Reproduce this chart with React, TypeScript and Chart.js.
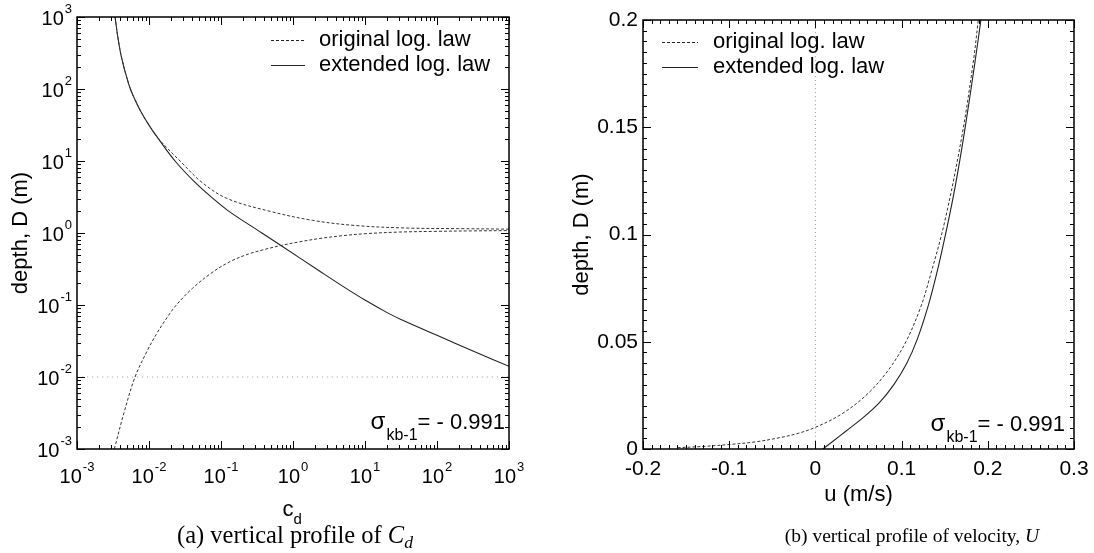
import React, { useEffect, useRef } from "react";
import { Chart, registerables } from "chart.js";

Chart.register(...registerables);

// ---------------- Panel (a): vertical profile of Cd (log-log) ----------------
const cdExtC = [0.00338, 0.00362, 0.00386, 0.00407, 0.00449, 0.00486, 0.00551, 0.00643, 0.00759, 0.0103, 0.0137, 0.023, 0.044, 0.078, 0.129, 0.37, 0.68, 2.36, 5, 10, 20, 31.6, 100, 316, 1000];
const cdExtD = [1000, 600, 400, 300, 200, 150, 100, 70, 50, 30, 20, 10, 5, 3, 2, 1, 0.67, 0.294, 0.18, 0.117, 0.079, 0.063, 0.038, 0.0229, 0.0141];

const cdOrigUpperC = [0.00338, 0.00362, 0.00386, 0.00407, 0.00449, 0.00486, 0.00551, 0.00643, 0.00759, 0.0103, 0.0138, 0.027, 0.055, 0.123, 0.48, 1.86, 7.4, 40, 200, 1000];
const cdOrigUpperD = [1000, 600, 400, 300, 200, 150, 100, 70, 50, 30, 20, 10, 5, 3, 2, 1.5, 1.27, 1.17, 1.15, 1.13];

const cdOrigLowerC = [0.0033, 0.0045, 0.0064, 0.0095, 0.0126, 0.018, 0.024, 0.04, 0.078, 0.14, 0.24, 0.4, 0.68, 1.2, 2.36, 5, 10.3, 30, 100, 300, 1000];
const cdOrigLowerD = [0.001, 0.0032, 0.01, 0.0234, 0.039, 0.068, 0.1, 0.17, 0.29, 0.41, 0.51, 0.59, 0.67, 0.75, 0.84, 0.92, 0.98, 1.03, 1.055, 1.07, 1.08];

const cdRefC = [0.001, 1000];
const cdRefD = [0.01, 0.01];

const logExponents = [-3, -2, -1, 0, 1, 2, 3];
const logMantissas = [1, 2, 3, 4, 5, 6, 7, 8, 9];

// ---------------- Panel (b): vertical profile of velocity ----------------
const uOrig = [-0.16, -0.13, -0.1, -0.07, -0.04, -0.02, 0, 0.03, 0.06, 0.085, 0.105, 0.122, 0.132, 0.15, 0.17, 0.183, 0.189];
const dOrig = [0.0006, 0.0012, 0.0021, 0.0033, 0.0054, 0.0073, 0.0101, 0.0162, 0.0255, 0.037, 0.05, 0.066, 0.079, 0.106, 0.146, 0.18, 0.2];

const uExt = [0.0087, 0.02, 0.036, 0.055, 0.074, 0.091, 0.106, 0.118, 0.131, 0.142, 0.152, 0.162, 0.173, 0.185, 0.192];
const dExt = [0, 0.0035, 0.0085, 0.0145, 0.0215, 0.03, 0.04, 0.051, 0.067, 0.084, 0.102, 0.122, 0.148, 0.18, 0.2];

const uRefU = [0, 0];
const uRefD = [0, 0.2];

const uTicks = [-0.2, -0.1, 0, 0.1, 0.2, 0.3];
const uTickLabels = ["-0.2", "-0.1", "0", "0.1", "0.2", "0.3"];
const dTicks = [0, 0.05, 0.1, 0.15, 0.2];
const dTickLabels = ["0", "0.05", "0.1", "0.15", "0.2"];
const uMinorStep = 0.01;
const dMinorStep = 0.005;

// ---------------- texts ----------------
const legendLabels = ["original log. law", "extended log. law"];
const sigmaSub = "kb-1";
const sigmaValue = "= - 0.991";
const yTitle = "depth, D (m)";
const xTitleB = "u (m/s)";

const SANS = '"Liberation Sans", Arial, Helvetica, sans-serif';
const LINE = "#222";

const pts = (xs: number[], ys: number[]) => xs.map((x, i) => ({ x, y: ys[i] }));

function lineDs(label: string, data: any[], dash: number[], color = LINE, width = 1) {
  return {
    label,
    data,
    showLine: true,
    borderColor: color,
    borderWidth: width,
    borderDash: dash,
    pointRadius: 0,
    fill: false,
    tension: 0.35,
  };
}

function drawPow10(ctx: CanvasRenderingContext2D, exp: number, x: number, y: number, align: "center" | "right") {
  ctx.font = `20px ${SANS}`;
  const wb = ctx.measureText("10").width;
  ctx.font = `13px ${SANS}`;
  const es = String(exp);
  const we = ctx.measureText(es).width;
  const total = wb + 1 + we;
  const x0 = align === "center" ? x - total / 2 : x - total;
  ctx.textAlign = "left";
  ctx.textBaseline = "middle";
  ctx.font = `20px ${SANS}`;
  ctx.fillText("10", x0, y);
  ctx.font = `13px ${SANS}`;
  ctx.fillText(es, x0 + wb + 1, y - 10);
}

function drawLegend(ctx: CanvasRenderingContext2D, x1: number, x2: number, xt: number, y1: number, y2: number) {
  ctx.save();
  ctx.strokeStyle = LINE;
  ctx.lineWidth = 1;
  ctx.setLineDash([3, 2]);
  ctx.beginPath();
  ctx.moveTo(x1, y1 + 0.5);
  ctx.lineTo(x2, y1 + 0.5);
  ctx.stroke();
  ctx.setLineDash([]);
  ctx.beginPath();
  ctx.moveTo(x1, y2 + 0.5);
  ctx.lineTo(x2, y2 + 0.5);
  ctx.stroke();
  ctx.fillStyle = "#000";
  ctx.font = `22px ${SANS}`;
  ctx.textAlign = "left";
  ctx.textBaseline = "middle";
  ctx.fillText(legendLabels[0], xt, y1);
  ctx.fillText(legendLabels[1], xt, y2);
  ctx.restore();
}

function drawSigma(ctx: CanvasRenderingContext2D, right: number, baseline: number) {
  ctx.save();
  ctx.fillStyle = "#000";
  ctx.textAlign = "left";
  ctx.textBaseline = "alphabetic";
  ctx.font = `22px ${SANS}`;
  const wv = ctx.measureText(sigmaValue).width;
  ctx.font = `16px ${SANS}`;
  const ws = ctx.measureText(sigmaSub).width;
  ctx.font = `24px ${SANS}`;
  const wsig = ctx.measureText("σ").width;
  let x = right - wv;
  ctx.font = `22px ${SANS}`;
  ctx.fillText(sigmaValue, x, baseline);
  x -= ws;
  ctx.font = `16px ${SANS}`;
  ctx.fillText(sigmaSub, x, baseline + 11);
  x -= wsig + 1;
  ctx.font = `24px ${SANS}`;
  ctx.fillText("σ", x, baseline);
  ctx.restore();
}

function drawYTitle(ctx: CanvasRenderingContext2D, x: number, y: number) {
  ctx.save();
  ctx.translate(x, y);
  ctx.rotate(-Math.PI / 2);
  ctx.fillStyle = "#000";
  ctx.font = `22px ${SANS}`;
  ctx.textAlign = "center";
  ctx.textBaseline = "middle";
  ctx.fillText(yTitle, 0, 0);
  ctx.restore();
}

const panelAPlugin = {
  id: "panelA",
  afterDatasetsDraw(chart: any) {
    const ctx: CanvasRenderingContext2D = chart.ctx;
    const a = chart.chartArea;
    const xs = chart.scales.x;
    const ys = chart.scales.y;
    ctx.save();
    ctx.strokeStyle = "#000";
    ctx.lineWidth = 1;
    ctx.beginPath();
    for (const e of logExponents) {
      for (const m of logMantissas) {
        const v = m * Math.pow(10, e);
        if (v > 1000.001) continue;
        const len = m === 1 ? 8 : 4;
        const px = Math.round(xs.getPixelForValue(v)) + 0.5;
        ctx.moveTo(px, a.bottom);
        ctx.lineTo(px, a.bottom - len);
        ctx.moveTo(px, a.top);
        ctx.lineTo(px, a.top + len);
        const py = Math.round(ys.getPixelForValue(v)) + 0.5;
        ctx.moveTo(a.left, py);
        ctx.lineTo(a.left + len, py);
        ctx.moveTo(a.right, py);
        ctx.lineTo(a.right - len, py);
      }
    }
    ctx.stroke();
    ctx.lineWidth = 1.5;
    ctx.strokeRect(a.left, a.top, a.right - a.left, a.bottom - a.top);

    ctx.fillStyle = "#000";
    for (const e of logExponents) {
      const v = Math.pow(10, e);
      drawPow10(ctx, e, xs.getPixelForValue(v), a.bottom + 28, "center");
      drawPow10(ctx, e, a.left - 5, ys.getPixelForValue(v) + 2, "right");
    }
    // x title c_d
    ctx.textAlign = "left";
    ctx.textBaseline = "alphabetic";
    ctx.font = `22px ${SANS}`;
    const wc = ctx.measureText("c").width;
    const cx = (a.left + a.right) / 2 - 2;
    ctx.fillText("c", cx - wc / 2 - 3, a.bottom + 67);
    ctx.font = `15px ${SANS}`;
    ctx.fillText("d", cx + wc / 2 - 3, a.bottom + 75);
    drawYTitle(ctx, 21, (a.top + a.bottom) / 2);
    drawLegend(ctx, 271, 305, 319, 40, 65);
    drawSigma(ctx, a.right - 4, a.bottom - 20);
    ctx.restore();
  },
};

const panelBPlugin = {
  id: "panelB",
  afterDatasetsDraw(chart: any) {
    const ctx: CanvasRenderingContext2D = chart.ctx;
    const a = chart.chartArea;
    const xs = chart.scales.x;
    const ys = chart.scales.y;
    ctx.save();
    ctx.strokeStyle = "#000";
    ctx.lineWidth = 1;
    ctx.beginPath();
    const uMin = uTicks[0];
    const uMax = uTicks[uTicks.length - 1];
    const nu = Math.round((uMax - uMin) / uMinorStep);
    for (let i = 0; i <= nu; i++) {
      const v = uMin + i * uMinorStep;
      const len = i % 10 === 0 ? 8 : 4;
      const px = Math.round(xs.getPixelForValue(v)) + 0.5;
      ctx.moveTo(px, a.bottom);
      ctx.lineTo(px, a.bottom - len);
      ctx.moveTo(px, a.top);
      ctx.lineTo(px, a.top + len);
    }
    const dMin = dTicks[0];
    const dMax = dTicks[dTicks.length - 1];
    const nd = Math.round((dMax - dMin) / dMinorStep);
    for (let i = 0; i <= nd; i++) {
      const v = dMin + i * dMinorStep;
      const len = i % 10 === 0 ? 8 : 4;
      const py = Math.round(ys.getPixelForValue(v)) + 0.5;
      ctx.moveTo(a.left, py);
      ctx.lineTo(a.left + len, py);
      ctx.moveTo(a.right, py);
      ctx.lineTo(a.right - len, py);
    }
    ctx.stroke();
    ctx.lineWidth = 1.5;
    ctx.strokeRect(a.left, a.top, a.right - a.left, a.bottom - a.top);

    ctx.fillStyle = "#000";
    ctx.font = `21px ${SANS}`;
    ctx.textBaseline = "middle";
    ctx.textAlign = "center";
    uTicks.forEach((v, i) => ctx.fillText(uTickLabels[i], xs.getPixelForValue(v), a.bottom + 20));
    ctx.textAlign = "right";
    dTicks.forEach((v, i) => ctx.fillText(dTickLabels[i], a.left - 5, ys.getPixelForValue(v)));
    ctx.font = `22px ${SANS}`;
    ctx.textAlign = "center";
    ctx.fillText(xTitleB, (a.left + a.right) / 2, a.bottom + 46);
    drawYTitle(ctx, 35, (a.top + a.bottom) / 2);
    drawLegend(ctx, 115, 151, 166, 42, 67);
    drawSigma(ctx, a.right - 9, a.bottom - 18);
    ctx.restore();
  },
};

function baseOptions(padding: any, xScale: any, yScale: any) {
  return {
    responsive: false,
    maintainAspectRatio: false,
    animation: false as const,
    devicePixelRatio: 1,
    layout: { padding },
    plugins: { legend: { display: false }, tooltip: { enabled: false }, title: { display: false } },
    scales: { x: xScale, y: yScale },
    elements: { point: { radius: 0 } },
  };
}

function makeChartA(canvas: HTMLCanvasElement) {
  return new Chart(canvas, {
    type: "scatter",
    data: {
      datasets: [
        lineDs("reference", pts(cdRefC, cdRefD), [1, 4], "#999", 1),
        lineDs(legendLabels[0], pts(cdOrigUpperC, cdOrigUpperD), [3, 2], "#333", 1),
        lineDs(legendLabels[0] + " (lower)", pts(cdOrigLowerC, cdOrigLowerD), [3, 2], "#333", 1),
        lineDs(legendLabels[1], pts(cdExtC, cdExtD), [], LINE, 1.1),
      ],
    },
    options: baseOptions(
      { left: 77, top: 17, right: 38, bottom: 104 },
      { type: "logarithmic", min: 1e-3, max: 1e3, display: false },
      { type: "logarithmic", min: 1e-3, max: 1e3, display: false }
    ) as any,
    plugins: [panelAPlugin],
  });
}

function makeChartB(canvas: HTMLCanvasElement) {
  return new Chart(canvas, {
    type: "scatter",
    data: {
      datasets: [
        lineDs("reference", pts(uRefU, uRefD), [1, 3], "#999", 1),
        lineDs(legendLabels[0], pts(uOrig, dOrig), [3, 2], "#333", 1),
        lineDs(legendLabels[1], pts(uExt, dExt), [], LINE, 1.1),
      ],
    },
    options: baseOptions(
      { left: 96, top: 20, right: 20, bottom: 104 },
      { type: "linear", min: uTicks[0], max: uTicks[uTicks.length - 1], display: false },
      { type: "linear", min: dTicks[0], max: dTicks[dTicks.length - 1], display: false }
    ) as any,
    plugins: [panelBPlugin],
  });
}

const captionBase: React.CSSProperties = {
  position: "absolute",
  width: 500,
  textAlign: "center",
  fontFamily: '"Liberation Serif", "Times New Roman", serif',
  color: "#000",
  whiteSpace: "nowrap",
};

export default function App() {
  const refA = useRef<HTMLCanvasElement>(null);
  const refB = useRef<HTMLCanvasElement>(null);
  useEffect(() => {
    const ca = makeChartA(refA.current!);
    const cb = makeChartB(refB.current!);
    return () => {
      ca.destroy();
      cb.destroy();
    };
  }, []);
  return (
    <div style={{ position: "fixed", left: 0, top: 0, width: 1094, height: 553, background: "#fff", overflow: "hidden" }}>
      <canvas ref={refA} width={547} height={553} style={{ position: "absolute", left: 0, top: 0, width: 547, height: 553 }} />
      <canvas ref={refB} width={547} height={553} style={{ position: "absolute", left: 547, top: 0, width: 547, height: 553 }} />
      <div style={{ ...captionBase, left: 295 - 250, top: 523, fontSize: 24.5, lineHeight: "24px" }}>
        (a) vertical profile of{" "}
        <i>
          C<span style={{ fontSize: "0.72em", position: "relative", top: "0.28em" }}>d</span>
        </i>
      </div>
      <div style={{ ...captionBase, left: 912 - 250, top: 526, fontSize: 19.5, lineHeight: "20px" }}>
        (b) vertical profile of velocity, <i>U</i>
      </div>
    </div>
  );
}
